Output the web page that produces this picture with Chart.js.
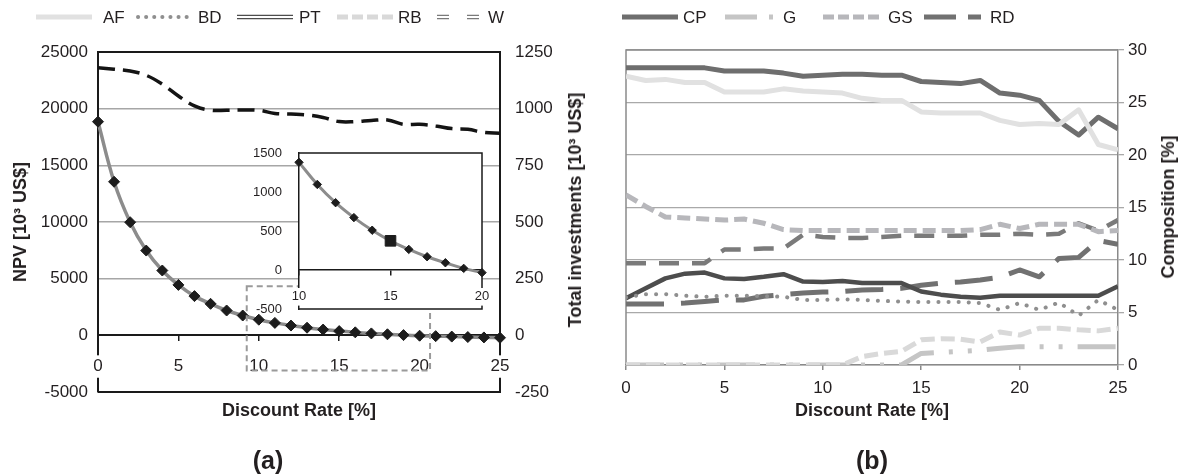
<!DOCTYPE html>
<html>
<head>
<meta charset="utf-8">
<title>NPV, total investments and composition versus discount rate</title>
<script src="https://cdn.jsdelivr.net/npm/chart.js@4.4.1/dist/chart.umd.min.js"></script>
<style>
  html, body { margin: 0; padding: 0; background: #ffffff; }
  #fig { position: relative; width: 1189px; height: 476px; overflow: hidden;
         font-family: "Liberation Sans", Arial, sans-serif; color: #231f20; }
  #fig canvas { position: absolute; }
  .txt { position: absolute; white-space: nowrap; line-height: 1; }
  .axis-title { font-size: 18px; font-weight: bold; transform: translate(-50%, -50%); }
  .axis-title.vertical { transform: translate(-50%, -50%) rotate(-90deg); }
  .panel { font-size: 25px; font-weight: bold; transform: translate(-50%, -50%); }
  .legend-text { font-size: 17px; transform: translateY(-50%); }
</style>
</head>
<body>
<div id="fig">
  <canvas id="npvChart" width="600" height="476" style="left:0;top:0;"></canvas>
  <canvas id="npvInset" width="250" height="185" style="left:240px;top:140px;"></canvas>
  <canvas id="compChart" width="589" height="476" style="left:600px;top:0;"></canvas>

  <div class="txt axis-title vertical" style="left:20px;top:222px;">NPV [10³ US$]</div>
  <div class="txt axis-title vertical" style="left:575px;top:210px;">Total investments [10³ US$]</div>
  <div class="txt axis-title vertical" style="left:1168px;top:207px;">Composition [%]</div>
  <div class="txt axis-title" style="left:299px;top:410px;">Discount Rate [%]</div>
  <div class="txt axis-title" style="left:872px;top:410px;">Discount Rate [%]</div>
  <div class="txt panel" style="left:268px;top:460px;">(a)</div>
  <div class="txt panel" style="left:872px;top:460px;">(b)</div>
</div>

<script>
// Discount rate categories [%]
const rates = [0, 1, 2, 3, 4, 5, 6, 7, 8, 9, 10, 11, 12, 13, 14, 15, 16, 17, 18, 19, 20, 21, 22, 23, 24, 25];

// Panel (a): net present value and total investments [10^3 US$]
const npv = [18850, 13550, 9980, 7480, 5720, 4450, 3460, 2780, 2190, 1750, 1380, 1097, 863, 672, 510,
             374, 264, 170, 93, 21, -34, -70, -110, -150, -185, -215];
const totalInvestment = [1181, 1174, 1166, 1147, 1108, 1056, 1012, 993, 993, 994, 993, 979, 976, 972, 961,
                         943, 943, 948, 950, 931, 931, 924, 912, 909, 895, 892];
const highlightRate = 15;
const insetRange = [10, 20];

// Panel (b): composition [%]
const compAF = [27.5, 27.1, 27.2, 26.9, 26.9, 26.0, 26.0, 26.0, 26.3, 26.1, 26.0, 25.9, 25.4, 25.2, 25.2,
                24.1, 24.0, 24.0, 24.0, 23.3, 22.9, 23.0, 22.9, 24.3, 21.0, 20.5];
const compBD = [6.45, 6.75, 6.75, 6.6, 6.5, 6.6, 6.6, 6.55, 6.5, 6.2, 6.2, 6.25, 6.2, 6.1, 6.05,
                6.0, 6.0, 6.0, 5.9, 5.25, 5.9, 5.25, 5.95, 4.7, 6.2, 5.25];
const compPT = [6.35, 7.3, 8.25, 8.7, 8.8, 8.25, 8.2, 8.4, 8.65, 7.95, 7.9, 8.0, 7.8, 7.8, 7.8,
                7.0, 6.7, 6.5, 6.4, 6.6, 6.6, 6.6, 6.6, 6.6, 6.6, 7.5];
const compRB = [0, 0, 0, 0, 0, 0, 0, 0, 0, 0, 0, 0, 0.8, 1.1, 1.3,
                2.4, 2.5, 2.45, 2.2, 3.15, 2.85, 3.5, 3.5, 3.35, 3.25, 3.5];
const compW  = [9.7, 9.7, 9.7, 9.7, 9.7, 11.0, 11.0, 11.1, 11.1, 12.4, 12.2, 12.1, 12.1, 12.2, 12.3,
                12.3, 12.3, 12.3, 12.4, 12.4, 12.5, 12.4, 12.5, 13.5, 12.8, 13.8];
const compCP = [28.3, 28.3, 28.3, 28.3, 28.3, 28.0, 28.0, 28.0, 27.8, 27.5, 27.6, 27.7, 27.7, 27.6, 27.6,
                27.0, 26.9, 26.8, 27.1, 25.9, 25.7, 25.2, 23.2, 21.9, 23.6, 22.5];
const compG  = [0, 0, 0, 0, 0, 0, 0, 0, 0, 0, 0, 0, 0, 0, 0,
                1.1, 1.2, 1.3, 1.4, 1.6, 1.75, 1.75, 1.75, 1.75, 1.75, 1.75];
const compGS = [16.2, 15.1, 14.1, 14.0, 13.9, 13.8, 13.9, 13.5, 12.9, 12.8, 12.8, 12.8, 12.8, 12.8, 12.8,
                12.8, 12.8, 12.8, 12.9, 13.4, 13.0, 13.4, 13.4, 13.4, 12.7, 12.8];
const compRD = [5.8, 5.8, 5.8, 5.9, 6.05, 6.2, 6.2, 6.55, 6.7, 6.85, 6.95, 7.0, 7.15, 7.2, 7.3,
                7.6, 7.8, 7.9, 8.1, 8.35, 9.05, 8.4, 10.15, 10.25, 11.85, 11.5];

const compData = { AF: compAF, BD: compBD, PT: compPT, RB: compRB, W: compW,
                   CP: compCP, G: compG, GS: compGS, RD: compRD };

// Line styles for the composition series (inner = white core of a double line)
const styles = {
  AF: { color: '#e1e1e1', width: 5 },
  BD: { color: '#8f8f8f', width: 4, dash: [0.1, 10], cap: 'round', legendDash: [0.1, 8] },
  PT: { color: '#4d4d4d', width: 4.5, inner: 1.8 },
  RB: { color: '#d9d9d9', width: 5, dash: [14, 6], legendDash: [11, 4] },
  W:  { color: '#7a7a7a', width: 4.5, inner: 1.8, dash: [20, 13], legendDash: [12, 18] },
  CP: { color: '#6e6e6e', width: 5 },
  G:  { color: '#c5c5c5', width: 5, dash: [38, 15, 4, 15, 4, 15], legendDash: [32, 12, 4, 20] },
  GS: { color: '#b7b7bb', width: 5, dash: [13, 6], legendDash: [11, 4] },
  RD: { color: '#717171', width: 5, dash: [38, 17], legendDash: [32, 12] }
};
const drawOrder = ['AF', 'RB', 'G', 'GS', 'BD', 'W', 'PT', 'RD', 'CP'];

// Legend row: [series, sample left, sample length, text left]
const legendItems = [
  ['AF', 36, 56, 103], ['BD', 136, 56, 198], ['PT', 237, 56, 299], ['RB', 337, 56, 398],
  ['W', 437, 45, 488], ['CP', 622, 56, 683], ['G', 725, 48, 783], ['GS', 823, 56, 888],
  ['RD', 924, 57, 990]
];

// Dashed frame marking the zoomed region on panel (a), in data units
const zoomBox = { xMin: 9.25, xMax: 20.65, yMin: -3100, yMax: 4330 };

Chart.defaults.font.family = "'Liberation Sans', Arial, sans-serif";
Chart.defaults.font.size = 17;
Chart.defaults.color = '#231f20';
Chart.defaults.animation = false;

const pts = ys => rates.map((x, i) => ({ x, y: ys[i] }));
const plain = v => String(v);

// ---------- panel (a) ----------
const frameA = {
  id: 'frameA',
  beforeDatasetsDraw(chart) {
    const { ctx, chartArea: a } = chart;
    ctx.save();
    ctx.strokeStyle = '#1a1a1a';
    ctx.lineWidth = 2;
    ctx.beginPath();
    ctx.moveTo(a.left, a.top); ctx.lineTo(a.right, a.top);
    ctx.moveTo(a.left, a.bottom); ctx.lineTo(a.right, a.bottom);
    ctx.stroke();
    ctx.restore();
  },
  afterDraw(chart) {
    const { ctx, scales } = chart;
    const x0 = scales.x.getPixelForValue(zoomBox.xMin);
    const x1 = scales.x.getPixelForValue(zoomBox.xMax);
    const y0 = scales.y.getPixelForValue(zoomBox.yMax);
    const y1 = scales.y.getPixelForValue(zoomBox.yMin);
    ctx.save();
    ctx.strokeStyle = '#9a9a9a';
    ctx.lineWidth = 2;
    ctx.setLineDash([6, 4]);
    ctx.strokeRect(x0, y0, x1 - x0, y1 - y0);
    ctx.restore();
  }
};

new Chart(document.getElementById('npvChart'), {
  type: 'line',
  data: {
    datasets: [
      { label: 'Total investments', data: pts(totalInvestment), yAxisID: 'y2',
        borderColor: '#141414', borderWidth: 3.5, borderDash: [17, 8], tension: 0.4,
        pointRadius: 0, fill: false },
      { label: 'NPV', data: pts(npv), yAxisID: 'y',
        borderColor: '#8c8c8c', borderWidth: 3.5, tension: 0.4, clip: false,
        pointStyle: 'rectRot', pointRadius: 5.5,
        pointBackgroundColor: '#1c1c1c', pointBorderColor: '#1c1c1c', pointBorderWidth: 1 }
    ]
  },
  options: {
    responsive: false,
    animation: false,
    layout: { padding: { left: 0, right: 0, top: 52, bottom: 84 } },
    plugins: { legend: { display: false }, tooltip: { enabled: false } },
    scales: {
      x: {
        type: 'linear', min: 0, max: 25, position: { y: 0 },
        afterFit: s => { s.height = 0; s.paddingLeft = 0; s.paddingRight = 0; },
        border: { color: '#1a1a1a', width: 2 },
        grid: { drawOnChartArea: false, tickLength: 5, color: '#1a1a1a', lineWidth: 1.5 },
        ticks: { stepSize: 5, autoSkip: false, padding: 16, z: 1,
                 showLabelBackdrop: true, backdropColor: '#ffffff', backdropPadding: 1 }
      },
      y: {
        position: 'left', min: -5000, max: 25000,
        afterFit: s => { s.width = 98; s.paddingTop = 0; s.paddingBottom = 0; },
        border: { color: '#1a1a1a', width: 2 },
        grid: { drawTicks: false, lineWidth: 1.5,
                color: c => (c.tick.value > 0 && c.tick.value < 25000) ? '#a6a6a6' : 'rgba(0,0,0,0)' },
        ticks: { stepSize: 5000, padding: 10, callback: plain }
      },
      y2: {
        position: 'right', min: -250, max: 1250,
        afterFit: s => { s.width = 100; s.paddingTop = 0; s.paddingBottom = 0; },
        border: { color: '#1a1a1a', width: 2 },
        grid: { display: false, drawTicks: false },
        ticks: { stepSize: 250, padding: 15, callback: plain }
      }
    }
  },
  plugins: [frameA]
});

// ---------- inset of panel (a) ----------
const insetFrame = {
  id: 'insetFrame',
  beforeDraw(chart) {
    const { ctx, chartArea: a } = chart;
    ctx.save();
    ctx.fillStyle = '#ffffff';
    ctx.fillRect(a.left, a.top, a.right - a.left, a.bottom - a.top);
    ctx.restore();
  },
  beforeDatasetsDraw(chart) {
    const { ctx, chartArea: a } = chart;
    ctx.save();
    ctx.strokeStyle = '#1a1a1a';
    ctx.lineWidth = 1.5;
    ctx.beginPath();
    ctx.moveTo(a.left, a.top); ctx.lineTo(a.right, a.top); ctx.lineTo(a.right, a.bottom); ctx.lineTo(a.left, a.bottom);
    ctx.stroke();
    ctx.restore();
  }
};

const insetPoints = pts(npv).filter(p => p.x >= insetRange[0] && p.x <= insetRange[1]);

new Chart(document.getElementById('npvInset'), {
  type: 'line',
  data: {
    datasets: [{
      label: 'NPV', data: insetPoints, borderColor: '#8c8c8c', borderWidth: 3, tension: 0.4, clip: false,
      pointStyle: c => (c.raw && c.raw.x === highlightRate) ? 'rect' : 'rectRot',
      pointRadius: c => (c.raw && c.raw.x === highlightRate) ? 7.5 : 4.2,
      pointBackgroundColor: '#1c1c1c', pointBorderColor: '#1c1c1c', pointBorderWidth: 1
    }]
  },
  options: {
    responsive: false,
    animation: false,
    layout: { autoPadding: false, padding: { left: 0, right: 8, top: 13, bottom: 16 } },
    plugins: { legend: { display: false }, tooltip: { enabled: false } },
    scales: {
      x: {
        type: 'linear', min: insetRange[0], max: insetRange[1], position: { y: 0 },
        afterFit: s => { s.height = 0; s.paddingLeft = 0; s.paddingRight = 0; },
        border: { color: '#1a1a1a', width: 1.5 },
        grid: { drawOnChartArea: false, tickLength: 5, color: '#1a1a1a', lineWidth: 1.5 },
        ticks: { stepSize: 5, autoSkip: false, padding: 14, z: 1, font: { size: 13 },
                 showLabelBackdrop: true, backdropColor: '#ffffff', backdropPadding: 1 }
      },
      y: {
        min: -500, max: 1500,
        afterFit: s => { s.width = 59; s.paddingTop = 0; s.paddingBottom = 0; },
        border: { color: '#1a1a1a', width: 1.5 },
        grid: { display: false, drawTicks: false },
        ticks: { stepSize: 500, padding: 17, font: { size: 13 }, callback: plain }
      }
    }
  },
  plugins: [insetFrame]
});

// ---------- panel (b) ----------
const frameB = {
  id: 'frameB',
  beforeDatasetsDraw(chart) {
    const { ctx, chartArea: a } = chart;
    ctx.save();
    ctx.strokeStyle = '#8a8a8a';
    ctx.lineWidth = 1.5;
    ctx.beginPath();
    ctx.moveTo(a.left, a.bottom); ctx.lineTo(a.left, a.top); ctx.lineTo(a.right, a.top);
    ctx.stroke();
    ctx.restore();
  }
};

const datasetsB = [];
drawOrder.forEach(k => {
  const st = styles[k];
  const base = {
    label: k, data: pts(compData[k]), borderColor: st.color, borderWidth: st.width,
    borderDash: st.dash || [], borderCapStyle: st.cap || 'butt', borderJoinStyle: 'round',
    pointRadius: 0, tension: 0, fill: false
  };
  datasetsB.push(base);
  if (st.inner) {
    datasetsB.push(Object.assign({}, base, { label: k + ' core', borderColor: '#ffffff', borderWidth: st.inner }));
  }
});

new Chart(document.getElementById('compChart'), {
  type: 'line',
  data: { datasets: datasetsB },
  options: {
    responsive: false,
    animation: false,
    layout: { padding: { left: 26, right: 0, top: 50, bottom: 0 } },
    plugins: { legend: { display: false }, tooltip: { enabled: false } },
    scales: {
      x: {
        type: 'linear', min: 0, max: 25, position: 'bottom',
        afterFit: s => { s.height = 111; s.paddingLeft = 0; s.paddingRight = 0; },
        border: { color: '#8a8a8a', width: 1.5 },
        grid: { drawOnChartArea: false, tickLength: 5, color: '#8a8a8a', lineWidth: 1.5 },
        ticks: { stepSize: 5, autoSkip: false, padding: 8 }
      },
      y: {
        position: 'right', min: 0, max: 30,
        afterFit: s => { s.width = 71; s.paddingTop = 0; s.paddingBottom = 0; },
        border: { color: '#8a8a8a', width: 1.5 },
        grid: { color: '#a9a9a9', lineWidth: 1.3, tickLength: 6 },
        ticks: { stepSize: 5, padding: 4, callback: plain }
      }
    }
  },
  plugins: [frameB]
});

// ---------- legend row ----------
const fig = document.getElementById('fig');
legendItems.forEach(([key, left, len, textLeft]) => {
  const st = styles[key];
  const cv = document.createElement('canvas');
  cv.width = len + 2; cv.height = 14;
  cv.style.left = left + 'px'; cv.style.top = '10px';
  fig.appendChild(cv);
  const c = cv.getContext('2d');
  c.lineCap = st.cap || 'butt';
  c.setLineDash(st.legendDash || st.dash || []);
  c.beginPath();
  c.moveTo(st.cap === 'round' ? 2 : 0, 7);
  c.lineTo(len, 7);
  c.strokeStyle = st.color; c.lineWidth = st.width;
  c.stroke();
  if (st.inner) { c.strokeStyle = '#ffffff'; c.lineWidth = st.inner; c.stroke(); }
  const t = document.createElement('div');
  t.className = 'txt legend-text';
  t.style.left = textLeft + 'px'; t.style.top = '17px';
  t.textContent = key;
  fig.appendChild(t);
});
</script>
</body>
</html>
